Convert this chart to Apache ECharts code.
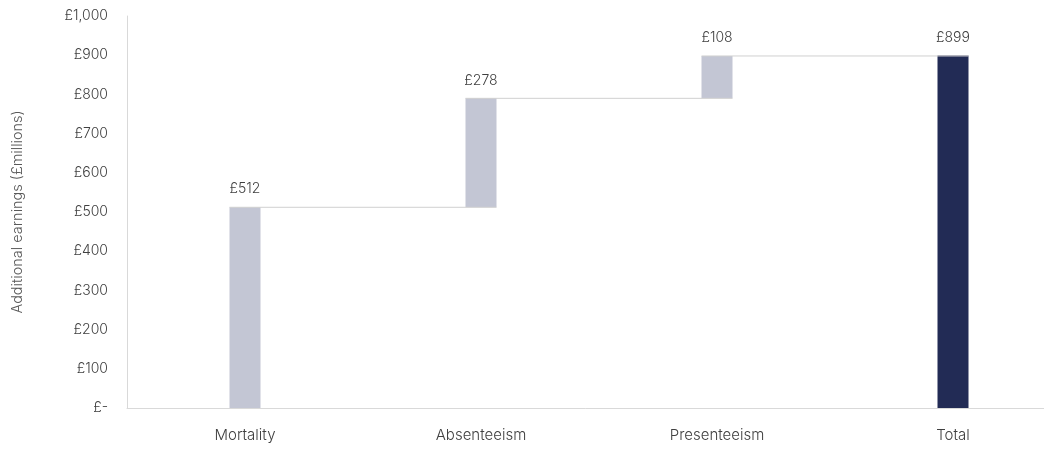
<!DOCTYPE html>
<html>
<head>
<meta charset="utf-8">
<script src="https://cdn.jsdelivr.net/npm/echarts@6/dist/echarts.min.js"></script>
<style>
  html, body { margin: 0; padding: 0; background: #ffffff; }
  #chart { width: 1044px; height: 449px; }
</style>
</head>
<body>
<div id="chart"></div>
<script>
// Waterfall of additional earnings by component (£ millions)
const categories = ['Mortality', 'Absenteeism', 'Presenteeism', 'Total'];
const stepValues = [512, 278, 108];   // incremental components
const totalValue = 899;               // reported total
const yTicks = [0, 100, 200, 300, 400, 500, 600, 700, 800, 900, 1000];

const FONT = 'Inter, "Open Sans", sans-serif';
const BAR_W = 31;
const LIGHT = '#C3C6D4';
const DARK = '#222B55';

// invisible base under each step bar, visible rise on top of it
const baseData = [];
const riseData = [];
const tops = [];
let running = 0;
stepValues.forEach(v => {
  baseData.push(running);
  riseData.push({ value: v, itemStyle: { color: LIGHT } });
  running += v;
  tops.push(running);
});
baseData.push(0);
riseData.push({ value: totalValue, itemStyle: { color: DARK } });

// connector from the top of one bar to the next bar
const connectorData = tops.map((t, i) => [i, t]);

const fmt = v => v === 0 ? '£-' : '£' + v.toLocaleString('en-GB');

const chart = echarts.init(document.getElementById('chart'), null, { renderer: 'canvas' });
chart.setOption({
  animation: false,
  backgroundColor: '#ffffff',
  // plot area runs slightly past the right edge of the canvas
  grid: { left: 127, top: 16, width: 944, height: 392, outerBoundsMode: 'none', containLabel: false },
  xAxis: {
    type: 'category',
    data: categories,
    axisLine: { lineStyle: { color: '#D9D9D9', width: 1 } },
    axisTick: { show: false },
    axisLabel: { color: '#404040', fontFamily: FONT, fontSize: 15, fontWeight: 300, margin: 20 }
  },
  yAxis: {
    type: 'value',
    min: yTicks[0],
    max: yTicks[yTicks.length - 1],
    interval: 100,
    name: 'Additional earnings (£millions)',
    nameLocation: 'middle',
    nameGap: 102,
    nameTextStyle: { color: '#595959', fontFamily: FONT, fontSize: 14.5, fontWeight: 300 },
    axisLine: { show: true, lineStyle: { color: '#D9D9D9', width: 1 } },
    axisTick: { show: false },
    splitLine: { show: false },
    axisLabel: { color: '#404040', fontFamily: FONT, fontSize: 14, fontWeight: 300, margin: 19, formatter: fmt }
  },
  series: [
    {
      type: 'bar',
      stack: 'wf',
      barWidth: BAR_W,
      itemStyle: { color: 'transparent' },
      data: baseData,
      silent: true
    },
    {
      type: 'bar',
      stack: 'wf',
      barWidth: BAR_W,
      data: riseData,
      label: {
        show: true,
        position: 'top',
        distance: 11,
        color: '#404040',
        fontFamily: FONT,
        fontSize: 14,
        fontWeight: 300,
        formatter: p => fmt(p.value)
      }
    },
    {
      type: 'custom',
      data: connectorData,
      z: 5,
      renderItem: (params, api) => {
        const i = api.value(0);
        const y = api.value(1);
        const a = api.coord([i, y]);
        const b = api.coord([i + 1, y]);
        return {
          type: 'line',
          shape: { x1: a[0] - BAR_W / 2, y1: a[1], x2: b[0] + BAR_W / 2, y2: b[1] },
          style: { stroke: '#D0D0D0', lineWidth: 1 }
        };
      }
    }
  ]
});
</script>
</body>
</html>
